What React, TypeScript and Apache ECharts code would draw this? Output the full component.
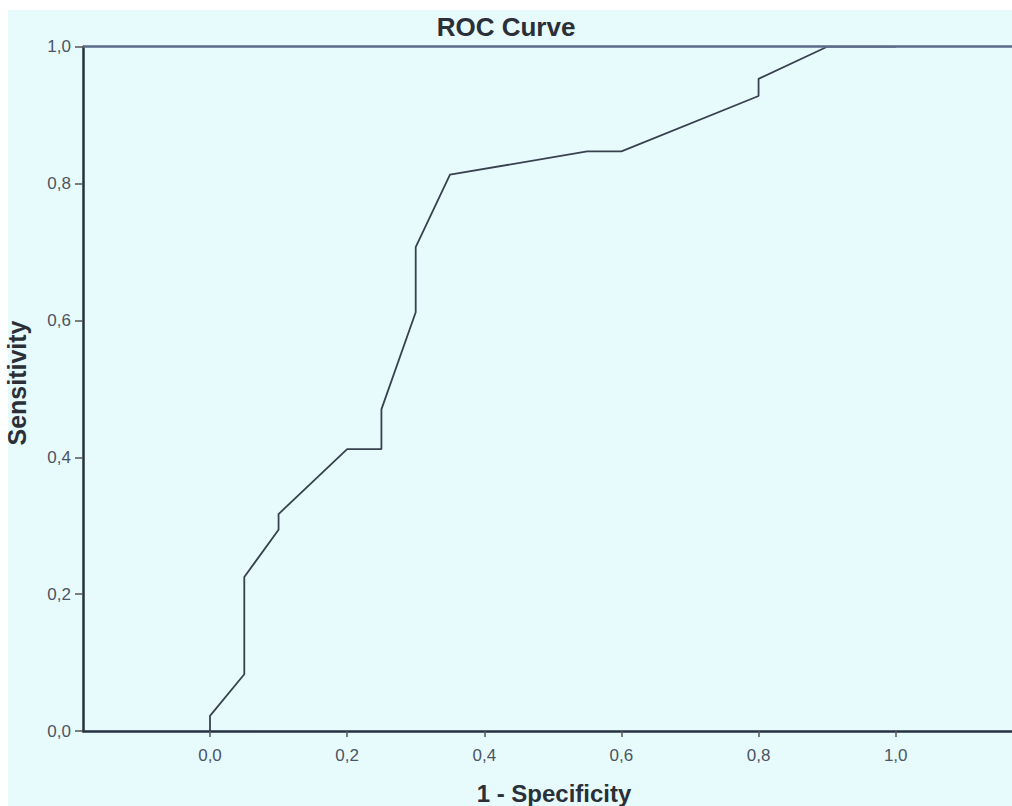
import React, { useEffect, useRef } from "react";
import * as echarts from "echarts";

const fprValues = [0, 0, 0.05, 0.05, 0.1, 0.1, 0.2, 0.25, 0.25, 0.3, 0.3, 0.35, 0.55, 0.6, 0.8, 0.8, 0.9, 1.0];
const tprValues = [0, 0.022, 0.083, 0.225, 0.294, 0.317, 0.412, 0.412, 0.47, 0.612, 0.707, 0.813, 0.847, 0.847, 0.928, 0.953, 1.0, 1.0];
const xTicks = [0, 0.2, 0.4, 0.6, 0.8, 1.0];

const fmt = (v: number) => v.toFixed(1).replace(".", ",");

export default function App() {
  const ref = useRef<HTMLDivElement>(null);
  useEffect(() => {
    if (!ref.current) return;
    const chart = echarts.init(ref.current, undefined, { renderer: "svg" });
    const data = fprValues.map((x, i) => [x, tprValues[i]]);
    const axisColor = "#263040";
    const labelColor = "#4d5462";
    const font = "'Liberation Sans', Arial, sans-serif";
    chart.setOption({
      animation: false,
      backgroundColor: "#ffffff",
      grid: { left: 83, top: 46.7, right: 0, bottom: 75, containLabel: false },
      xAxis: {
        type: "value",
        min: -0.1852,
        max: 1.1696,
        axisLine: { show: true, onZero: false, lineStyle: { color: axisColor, width: 2.5 } },
        axisTick: { show: true, customValues: xTicks, length: 6, lineStyle: { color: "#555", width: 1.5 } },
        axisLabel: {
          customValues: xTicks,
          formatter: (v: number) => fmt(v),
          color: labelColor,
          fontSize: 17,
          fontFamily: font,
          margin: 16,
        },
        splitLine: { show: false },
      },
      yAxis: {
        type: "value",
        min: 0,
        max: 1,
        interval: 0.2,
        axisLine: { show: true, onZero: false, lineStyle: { color: axisColor, width: 2.5 } },
        axisTick: { show: true, length: 8, lineStyle: { color: "#555", width: 1.5 } },
        axisLabel: {
          formatter: (v: number) => fmt(v),
          color: labelColor,
          fontSize: 17,
          fontFamily: font,
          margin: 12,
        },
        splitLine: { show: false },
      },
      graphic: [
        {
          type: "rect",
          z: -10,
          silent: true,
          shape: { x: 8, y: 10, width: 1004, height: 796 },
          style: { fill: "#e7fbfd" },
        },
        {
          type: "text",
          x: 506,
          y: 26.5,
          style: {
            text: "ROC Curve",
            font: "bold 26px " + font,
            fill: "#2a2f38",
            align: "center",
            verticalAlign: "middle",
          },
        },
        {
          type: "text",
          x: 554,
          y: 793,
          style: {
            text: "1 - Specificity",
            font: "bold 24px " + font,
            fill: "#2a2f38",
            align: "center",
            verticalAlign: "middle",
          },
        },
        {
          type: "text",
          x: 17,
          y: 383,
          rotation: Math.PI / 2,
          style: {
            text: "Sensitivity",
            font: "bold 25px " + font,
            fill: "#2a2f38",
            align: "center",
            verticalAlign: "middle",
          },
        },
      ],
      series: [
        {
          type: "line",
          data,
          symbol: "none",
          lineStyle: { color: "#39414f", width: 1.8 },
          markLine: {
            silent: true,
            symbol: "none",
            label: { show: false },
            lineStyle: { color: "#5a6b8a", width: 2.5, type: "solid" },
            data: [{ yAxis: 1 }],
          },
        },
      ],
    });
    return () => chart.dispose();
  }, []);
  return (
    <div
      ref={ref}
      style={{ position: "fixed", left: 0, top: 0, width: 1012, height: 806 }}
    />
  );
}
